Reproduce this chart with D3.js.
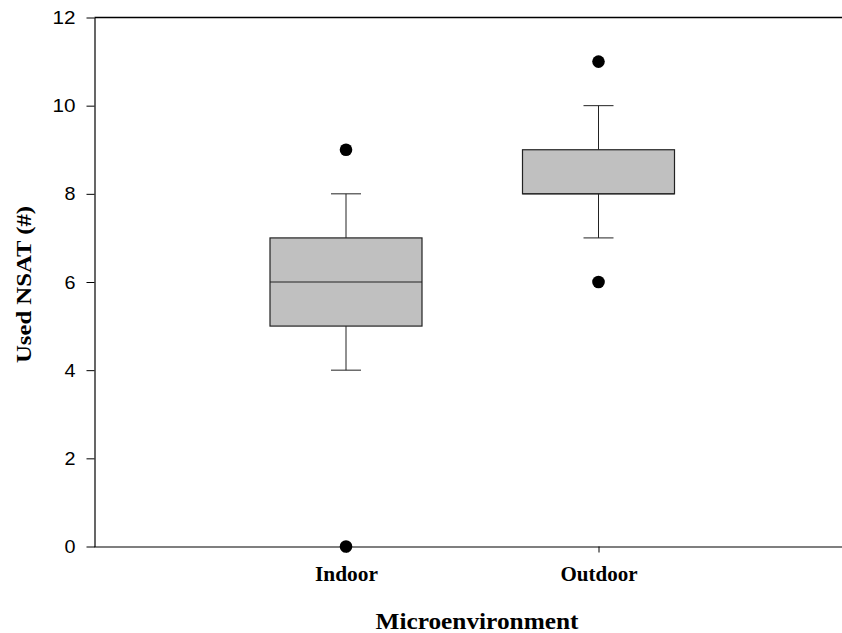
<!DOCTYPE html>
<html><head><meta charset="utf-8">
<script src="https://cdn.jsdelivr.net/npm/d3@7"></script>
<style>body{margin:0;background:#fff}svg{display:block}</style>
</head><body><svg id="c" width="842" height="633"></svg>
<script>
const categories = ["Indoor", "Outdoor"];
const q1 = [5, 8];
const median = [6, 8];
const q3 = [7, 9];
const whiskerLow = [4, 7];
const whiskerHigh = [8, 10];
const outliers = [[9, 0], [11, 6]];
const yTicks = [0, 2, 4, 6, 8, 10, 12];
const yTitle = "Used NSAT (#)";
const xTitle = "Microenvironment";

const svg = d3.select("#c");
const L = 94.5, T = 17.5, B = 546.5, R = 851;
const y = d3.scaleLinear().domain([0, 12]).range([B, T]);
const x = d3.scalePoint().domain(["_a", ...categories, "_b"]).range([L - 1, R]);
const boxW = 152, capW = 30;

// frame: top line
svg.append("line").attr("x1", L).attr("x2", 842).attr("y1", T).attr("y2", T)
  .attr("stroke", "#000").attr("stroke-width", 1.3);

// y axis
const yAxis = svg.append("g").attr("transform", `translate(${L},0)`)
  .call(d3.axisLeft(y).tickValues(yTicks).tickSize(8).tickPadding(11).tickSizeOuter(0));
yAxis.select(".domain").attr("stroke", "#000").attr("stroke-width", 1.2);
yAxis.selectAll(".tick line").attr("stroke", "#000");
yAxis.selectAll(".tick text").attr("font-family", "Liberation Sans, Arial, sans-serif")
  .attr("font-size", 19).attr("fill", "#000")
  .attr("textLength", d => String(d).length > 1 ? 23 : 11).attr("lengthAdjust", "spacingAndGlyphs");

// x axis
const xAxis = svg.append("g").attr("transform", `translate(0,${B})`)
  .call(d3.axisBottom(x).tickValues(categories).tickSize(6).tickPadding(14).tickSizeOuter(0));
xAxis.select(".domain").attr("stroke", "#000").attr("stroke-width", 1.2);
xAxis.selectAll(".tick line").attr("stroke", "#000");
const xLen = {Indoor: 63, Outdoor: 77};
xAxis.selectAll(".tick text").attr("font-family", "Liberation Serif, Times New Roman, serif")
  .attr("font-weight", "bold").attr("font-size", 20).attr("fill", "#000")
  .attr("textLength", d => xLen[d]).attr("lengthAdjust", "spacingAndGlyphs");

// boxes
const data = categories.map((c, i) => ({c, q1: q1[i], med: median[i], q3: q3[i], lo: whiskerLow[i], hi: whiskerHigh[i], out: outliers[i]}));
const g = svg.append("g");
data.forEach(d => {
  const cx = x(d.c);
  g.append("line").attr("x1", cx).attr("x2", cx).attr("y1", y(d.q3)).attr("y2", y(d.hi)).attr("stroke", "#222");
  g.append("line").attr("x1", cx).attr("x2", cx).attr("y1", y(d.q1)).attr("y2", y(d.lo)).attr("stroke", "#222");
  g.append("line").attr("x1", cx - capW / 2).attr("x2", cx + capW / 2).attr("y1", y(d.hi)).attr("y2", y(d.hi)).attr("stroke", "#222");
  g.append("line").attr("x1", cx - capW / 2).attr("x2", cx + capW / 2).attr("y1", y(d.lo)).attr("y2", y(d.lo)).attr("stroke", "#222");
  g.append("rect").attr("x", cx - boxW / 2).attr("y", y(d.q3)).attr("width", boxW).attr("height", y(d.q1) - y(d.q3))
    .attr("fill", "#c0c0c0").attr("stroke", "#222").attr("stroke-width", 1.2);
  g.append("line").attr("x1", cx - boxW / 2).attr("x2", cx + boxW / 2).attr("y1", y(d.med)).attr("y2", y(d.med)).attr("stroke", "#222");
  d.out.forEach(v => g.append("circle").attr("cx", cx).attr("cy", y(v)).attr("r", 6.3).attr("fill", "#000"));
});

// titles
svg.append("text").attr("x", 477).attr("y", 629).attr("text-anchor", "middle")
  .attr("font-family", "Liberation Serif, Times New Roman, serif").attr("font-weight", "bold")
  .attr("font-size", 23).attr("textLength", 203).attr("lengthAdjust", "spacingAndGlyphs").text(xTitle);
svg.append("text").attr("transform", "translate(31,284.5) rotate(-90)").attr("text-anchor", "middle")
  .attr("font-family", "Liberation Serif, Times New Roman, serif").attr("font-weight", "bold")
  .attr("font-size", 20).attr("textLength", 157).attr("lengthAdjust", "spacingAndGlyphs").text(yTitle);
</script></body></html>
